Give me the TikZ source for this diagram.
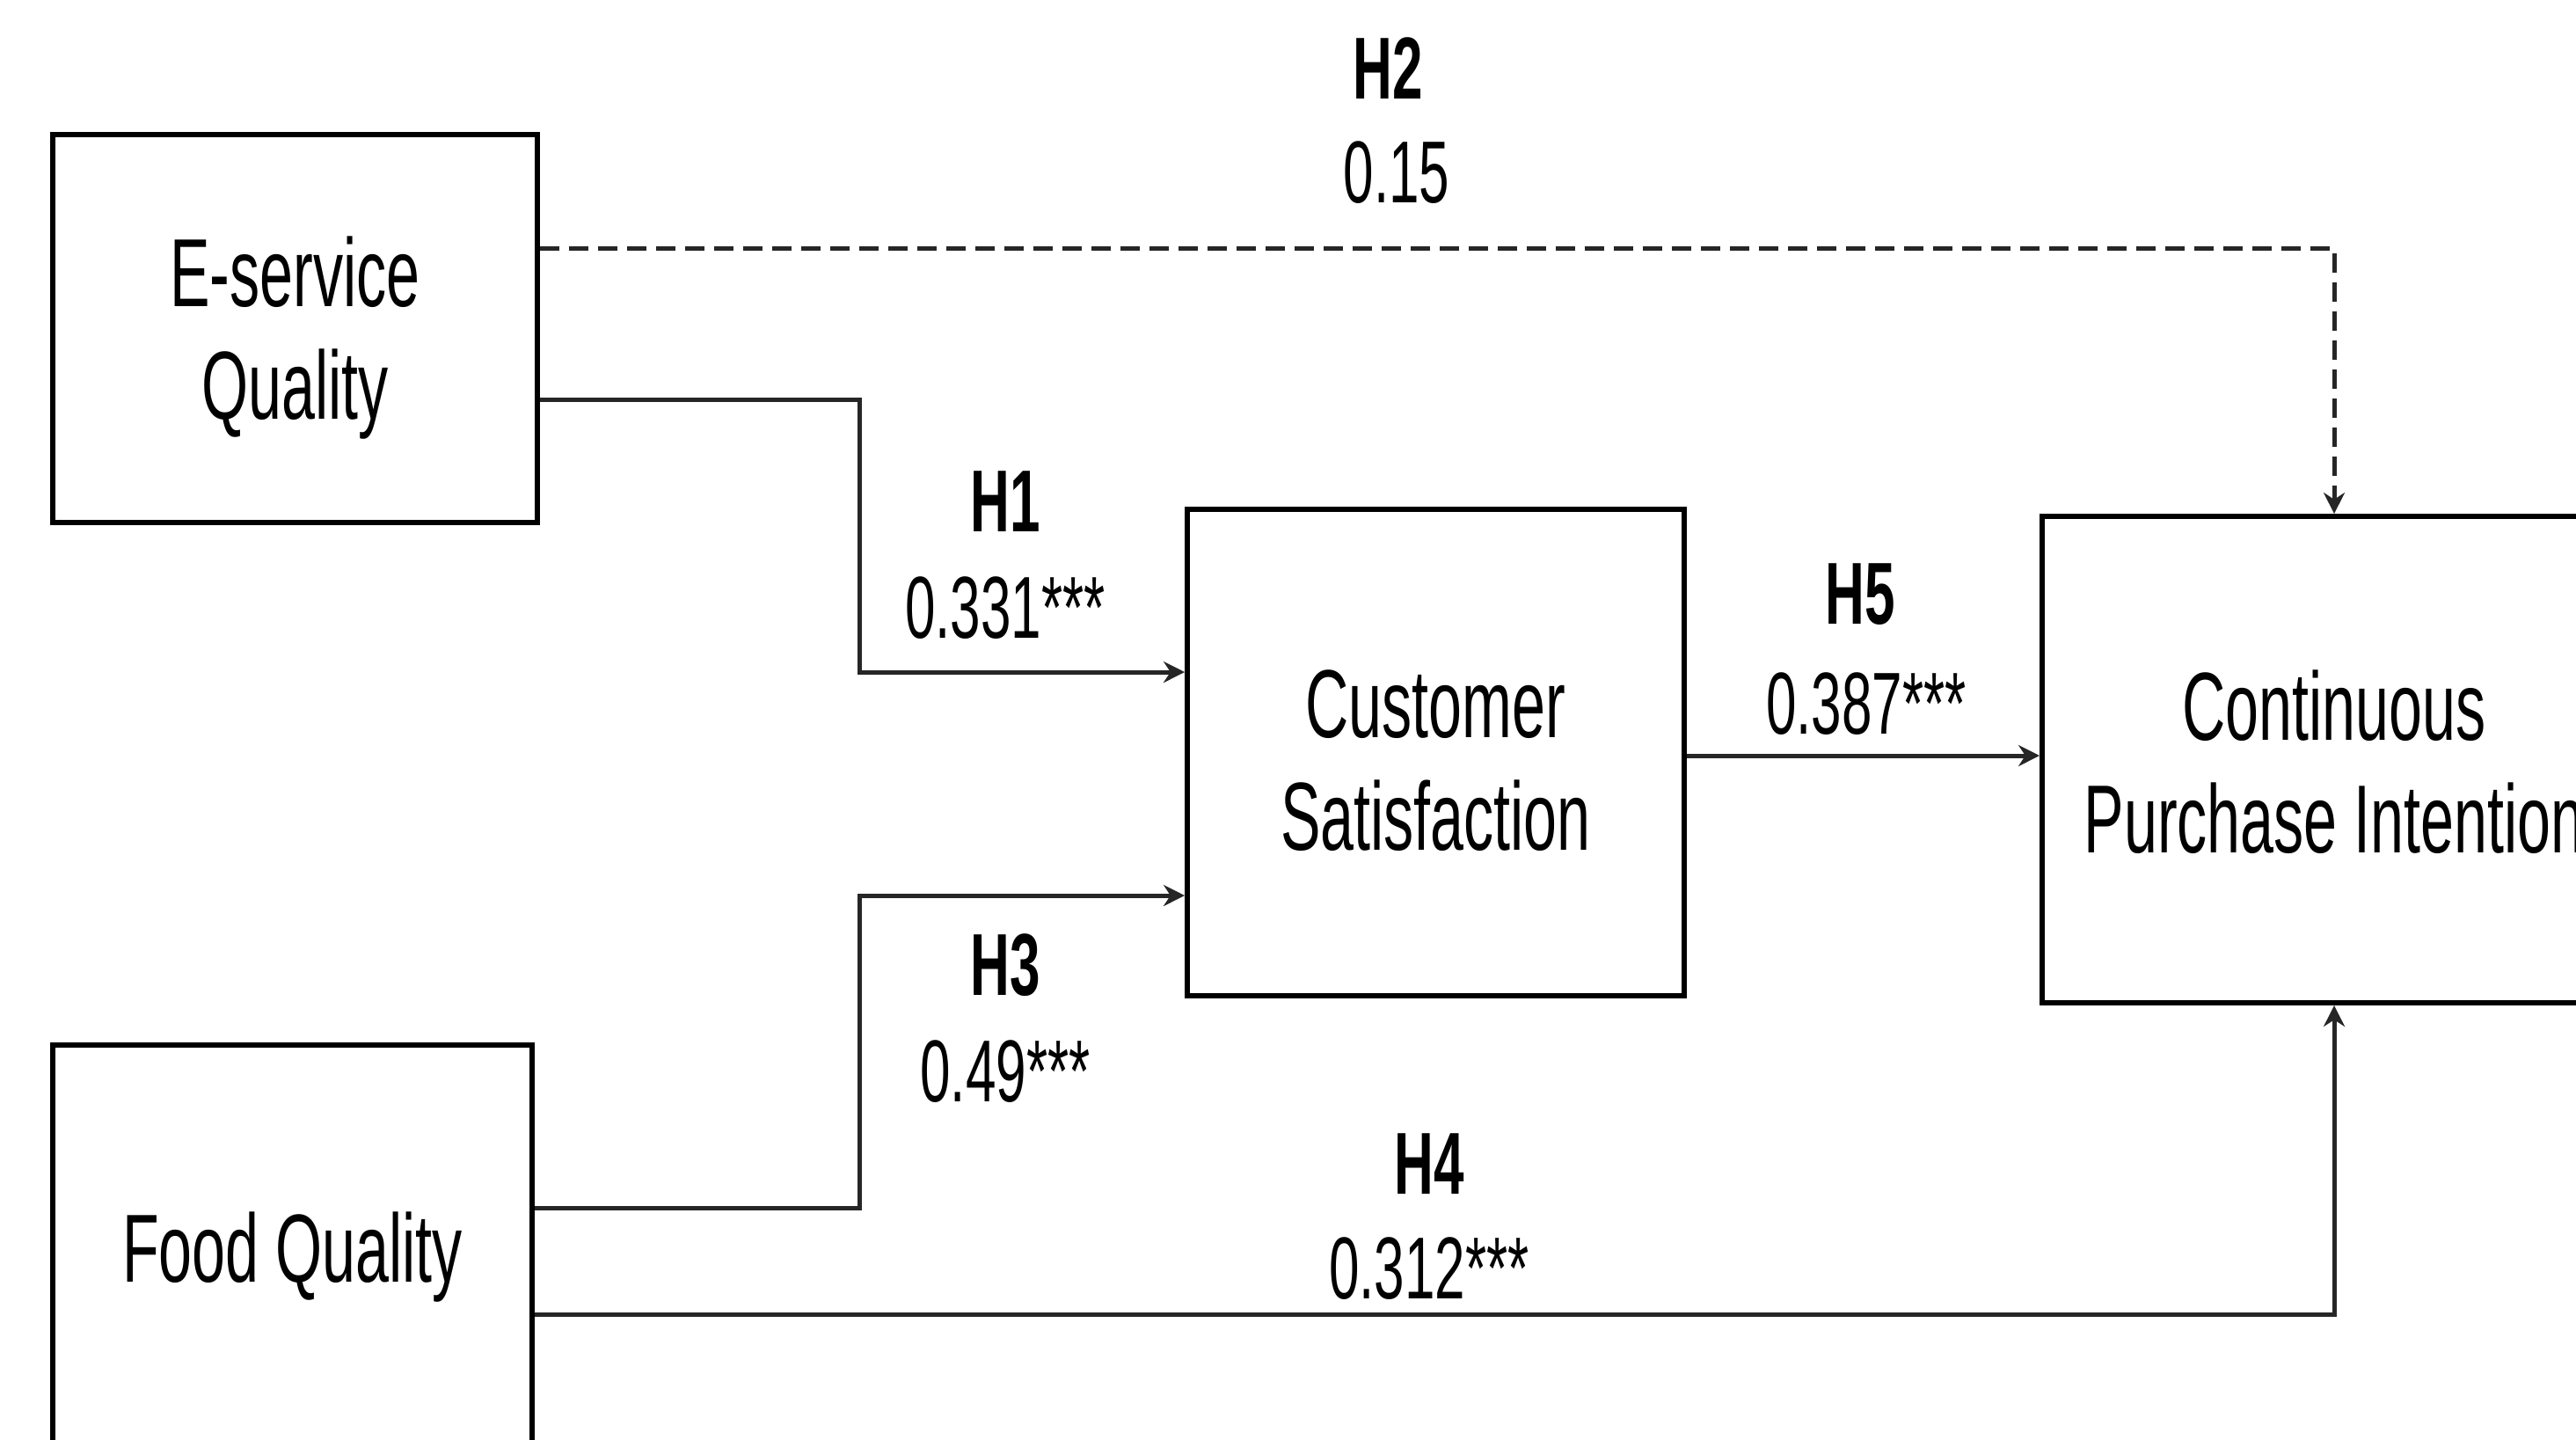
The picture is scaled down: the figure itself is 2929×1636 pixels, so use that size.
\documentclass[tikz,border=0pt]{standalone}
\usepackage{fontspec}
\setmainfont{Liberation Sans}[FakeStretch=0.62]
\usetikzlibrary{arrows.meta}
\tikzset{
  box/.style={draw=black, line width=0.6pt, rectangle, inner sep=0pt},
  boxtext/.style={inner sep=0pt, align=center, font=\fontsize{11}{12.8}\selectfont},
  conn/.style={draw=black!85, line width=0.5pt},
  tip/.style={-{Stealth[length=2.4pt,width=2.4pt]}},
  lbl/.style={font=\fontsize{10}{12}\selectfont, inner sep=0pt, anchor=center},
  hyp/.style={font=\bfseries\fontsize{10}{12}\selectfont, inner sep=0pt, anchor=center}
}
\begin{document}
\begin{tikzpicture}[x=0.1pt,y=-0.1pt]
\useasboundingbox (0,0) rectangle (2929,1636);
\node[box, minimum width=55.1pt, minimum height=44.1pt] (ES) at (335.5,373.5) {};
\node[box, minimum width=54.5pt, minimum height=46.4pt] (FQ) at (332.5,1420) {};
\node[box, minimum width=56.5pt, minimum height=55.3pt] (CS) at (1632.5,855.5) {};
\node[box, minimum width=66.4pt, minimum height=55.3pt] (CPI) at (2654,863.5) {};
\node[boxtext] (ESt) at (335.5,384) {E-service\\Quality};
\node[boxtext] (FQt) at (332.5,1429) {Food Quality};
\node[boxtext] (CSt) at (1632.5,865) {Customer\\Satisfaction};
\node[boxtext] (CPIt) at (2654,866) {Continuous\\Purchase Intention};
% H2 dashed
\draw[conn, dash pattern=on 2.2pt off 1.1pt, tip] (ES.east |- 0,282) -- (CPI.north |- 0,282) -- (CPI.north);
% H1
\coordinate (k1) at (977,454);
\draw[conn, tip] (ES.east |- k1) -- (k1) |- (CS.west |- 0,764);
% H3
\coordinate (k3) at (977,1373);
\draw[conn, tip] (FQ.east |- k3) -- (k3) |- (CS.west |- 0,1018);
% H4
\draw[conn, tip] (FQ.east |- 0,1494) -- (CPI.south |- 0,1494) -- (CPI.south);
% H5
\draw[conn, tip] (CS.east |- 0,859) -- (CPI.west |- 0,859);
% labels
\node[hyp] (h2) at (1578,78) {H2};
\node[lbl] (v2) at (1588,196) {0.15};
\node[hyp] (h1) at (1143,570) {H1};
\node[lbl] (v1) at (1143,691) {0.331***};
\node[hyp] (h5) at (2115,676) {H5};
\node[lbl] (v5) at (2122,800) {0.387***};
\node[hyp] (h3) at (1143,1097) {H3};
\node[lbl] (v3) at (1143,1218) {0.49***};
\node[hyp] (h4) at (1625,1323) {H4};
\node[lbl] (v4) at (1625,1442) {0.312***};
\end{tikzpicture}
\end{document}
